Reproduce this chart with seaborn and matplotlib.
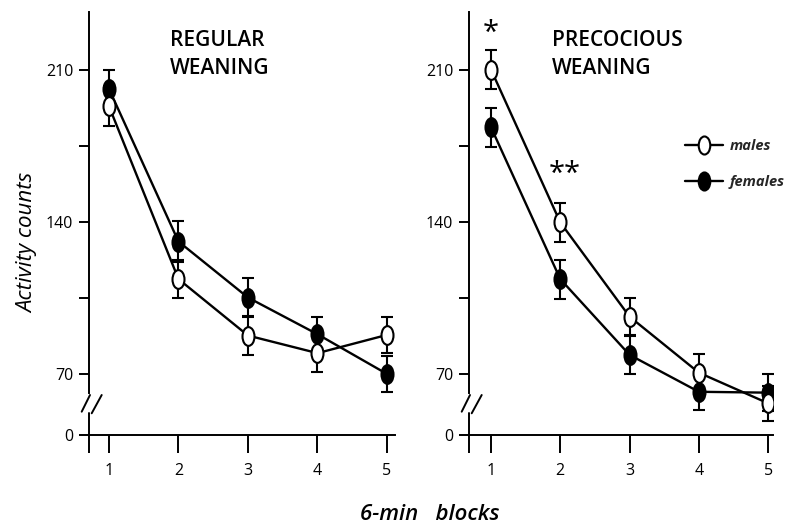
import numpy as np
import pandas as pd
import matplotlib
matplotlib.use("Agg")
import matplotlib.pyplot as plt
from matplotlib.markers import MarkerStyle
from matplotlib.transforms import Affine2D
from matplotlib.lines import Line2D
import seaborn as sns

# data (means and SE bars)
blocks = [1, 2, 3, 4, 5]
reg_males = [193.3, 113.7, 87.7, 79.6, 88.0]
reg_males_se = [9.2, 8.7, 9.0, 8.8, 8.4]
reg_females = [201.3, 131.0, 105.2, 88.3, 70.0]
reg_females_se = [8.7, 9.3, 9.0, 8.0, 8.4]
pre_males = [210.2, 139.8, 96.4, 70.6, 56.5]
pre_males_se = [9.0, 9.0, 8.5, 8.5, 8.0]
pre_females = [183.6, 113.7, 78.8, 61.8, 61.4]
pre_females_se = [9.0, 9.0, 8.7, 8.4, 8.6]

panel_titles = ["REGULAR\nWEANING", "PRECOCIOUS\nWEANING"]
ytick_vals = [70, 140, 210]
yminor_vals = [105, 175]
y_bottom = 41.9      # baseline shown as "0" (broken axis)
y_top = 236.7

W, H = 787, 527
sns.set_theme(style="ticks")
plt.rcParams["font.family"] = ["Open Sans", "DejaVu Sans"]
plt.rcParams["axes.linewidth"] = 1.4

fig = plt.figure(figsize=(W / 100, H / 100), dpi=100)
ax_l = fig.add_axes([89.3 / W, 92 / H, 305.7 / W, 423 / H])
ax_r = fig.add_axes([469.3 / W, 92 / H, 303.7 / W, 423 / H])

ell = MarkerStyle("o", transform=Affine2D().scale(0.64, 1.0))

panels = [
    (ax_l, reg_males, reg_males_se, reg_females, reg_females_se, (0.717, 5.115)),
    (ax_r, pre_males, pre_males_se, pre_females, pre_females_se, (0.687, 5.07)),
]

for i, (ax, m, mse, f, fse, xl) in enumerate(panels):
    df = pd.DataFrame({
        "block": blocks * 2,
        "count": m + f,
        "sex": ["males"] * 5 + ["females"] * 5,
    })
    for sex, vals, se, face in [("females", f, fse, "black"), ("males", m, mse, "white")]:
        ax.errorbar(blocks, vals, yerr=se, fmt="none", ecolor="black",
                    elinewidth=1.5, capsize=4.2, capthick=1.5, zorder=2)
        sns.lineplot(data=df[df["sex"] == sex], x="block", y="count", ax=ax,
                     color="black", lw=1.7, marker=ell, markersize=13.5,
                     markerfacecolor=face, markeredgecolor="black",
                     markeredgewidth=1.5, zorder=3, legend=False)

    ax.set_xlim(*xl)
    ax.set_ylim(y_bottom, y_top)
    ax.set_xticks([xl[0]] + blocks)
    ax.set_xticklabels([""] + [str(b) for b in blocks])
    ax.set_yticks([y_bottom] + ytick_vals)
    ax.set_yticklabels(["0"] + [str(v) for v in ytick_vals])
    ax.set_yticks(yminor_vals, minor=True)
    ax.tick_params(axis="x", direction="out", length=13, width=1.4, pad=7,
                   labelsize=11.5, colors="black")
    ax.tick_params(axis="y", which="both", direction="out", length=7.5, width=1.4,
                   pad=4, labelsize=11.5, colors="black")
    ax.set_xlabel("")
    ax.set_ylabel("")
    for s in ["top", "right"]:
        ax.spines[s].set_visible(False)
    ax.spines["left"].set_bounds(61.2, y_top)
    ax.spines["left"].set_color("black")
    ax.spines["bottom"].set_color("black")
    # lower stub of the broken y axis
    ax.axvline(xl[0], ymin=0, ymax=(52.0 - y_bottom) / (y_top - y_bottom),
               color="black", lw=1.4, clip_on=False)

    ax.text(1.88, 228.5, panel_titles[i], ha="left", va="top", fontsize=15,
            linespacing=1.45, color="black", fontweight="semibold")

    # break marks "//"
    x0 = ax.get_position().x0 * W
    for a, b in [((-7.6, 411.7), (0.7, 395)), ((2.4, 413.3), (12.4, 395))]:
        fig.add_artist(Line2D([(x0 + a[0]) / W, (x0 + b[0]) / W],
                              [1 - a[1] / H, 1 - b[1] / H],
                              transform=fig.transFigure, color="black", lw=1.4))

# significance marks
ax_r.text(1.0, 227, "*", ha="center", va="center", fontsize=21, color="black")
ax_r.text(2.06, 162, "**", ha="center", va="center", fontsize=21, color="black")

# legend
handles = [
    Line2D([], [], color="black", lw=1.7, marker=ell, markersize=13,
           markerfacecolor="white", markeredgecolor="black", markeredgewidth=1.5),
    Line2D([], [], color="black", lw=1.7, marker=ell, markersize=13,
           markerfacecolor="black", markeredgecolor="black", markeredgewidth=1.5),
]
fig.legend(handles, ["males", "females"], loc="center left",
           bbox_to_anchor=(685 / W, 1 - 164 / H), frameon=False,
           borderpad=0, borderaxespad=0, handlelength=2.6, handletextpad=0.45,
           labelspacing=1.5, prop={"style": "italic", "weight": "bold", "size": 10.5})

fig.text(28 / W, 1 - 243 / H, "Activity counts", rotation=90, ha="center",
         va="center", fontsize=16, style="italic", color="black")
fig.text(430 / W, 1 - 515 / H, "6-min   blocks", ha="center", va="center",
         fontsize=16, style="italic", color="black", fontweight="semibold")

fig.savefig("out.png", dpi=100)
